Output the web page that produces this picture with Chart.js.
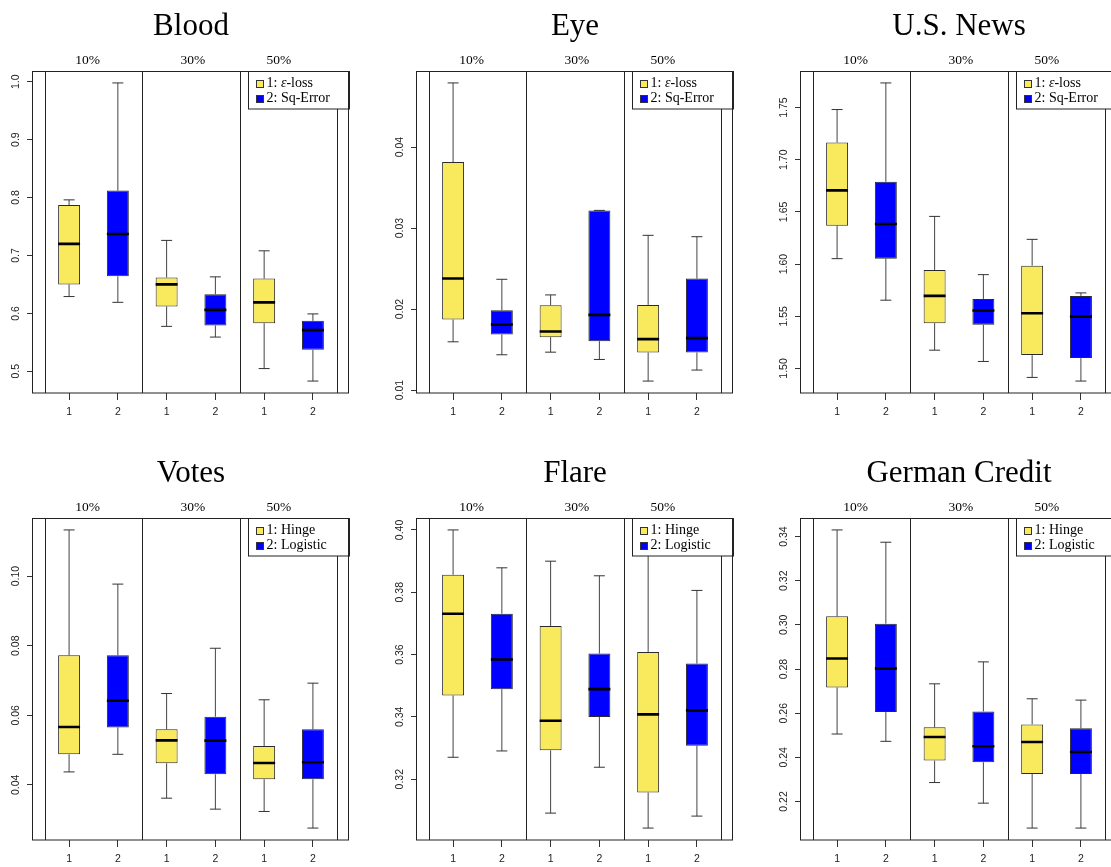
<!DOCTYPE html>
<html>
<head>
<meta charset="utf-8">
<script src="https://cdn.jsdelivr.net/npm/chart.js@4.4.0/dist/chart.umd.min.js"></script>
<style>
html, body { margin: 0; padding: 0; background: #fff; overflow: hidden; width: 1111px; height: 867px; }
#wrap { position: relative; width: 1111px; height: 867px; overflow: hidden; }
.panel { position: absolute; width: 384px; height: 447px; }
.panel canvas { display: block; }
</style>
</head>
<body>
<div id="wrap">
  <div class="panel" style="left:0px;top:0px"><canvas id="c0" width="384" height="447"></canvas></div>
  <div class="panel" style="left:384px;top:0px"><canvas id="c1" width="384" height="447"></canvas></div>
  <div class="panel" style="left:768px;top:0px"><canvas id="c2" width="384" height="447"></canvas></div>
  <div class="panel" style="left:0px;top:447px"><canvas id="c3" width="384" height="447"></canvas></div>
  <div class="panel" style="left:384px;top:447px"><canvas id="c4" width="384" height="447"></canvas></div>
  <div class="panel" style="left:768px;top:447px"><canvas id="c5" width="384" height="447"></canvas></div>
</div>
<script>
// ---------- data ----------
const boxPositions = [1, 2, 3, 4, 5, 6];
const boxTickLabels = ['1', '2', '1', '2', '1', '2'];
const groupLabels = ['10%', '30%', '50%'];
const groupLabelAt = [1.38, 3.54, 5.3];
const groupSeparators = [0.5, 2.5, 4.5, 6.5];
const boxColors = ['#F9EA5D', '#0000FF', '#F9EA5D', '#0000FF', '#F9EA5D', '#0000FF'];
const legendColors = ['#F9EA5D', '#0000FF'];
const regressionLegend = ['1: ε-loss', '2: Sq-Error'];
const classificationLegend = ['1: Hinge', '2: Logistic'];

// each box: [min, q1, median, q3, max]
const bloodBoxes = [
  [0.629, 0.650, 0.720, 0.787, 0.796],
  [0.619, 0.664, 0.737, 0.812, 0.998],
  [0.5775, 0.612, 0.650, 0.662, 0.726],
  [0.559, 0.579, 0.606, 0.633, 0.663],
  [0.5046, 0.583, 0.619, 0.660, 0.708],
  [0.483, 0.537, 0.571, 0.587, 0.599]
];
const bloodTicks = [0.5, 0.6, 0.7, 0.8, 0.9, 1.0];
const bloodTickLabels = ['0.5', '0.6', '0.7', '0.8', '0.9', '1.0'];

const eyeBoxes = [
  [0.01596, 0.01871, 0.02377, 0.03815, 0.04793],
  [0.01436, 0.01686, 0.01810, 0.01986, 0.02368],
  [0.01468, 0.01653, 0.01723, 0.02048, 0.02175],
  [0.01378, 0.01604, 0.01929, 0.03219, 0.03219],
  [0.01111, 0.01464, 0.01629, 0.02052, 0.02911],
  [0.01247, 0.01464, 0.01641, 0.02377, 0.02894]
];
const eyeTicks = [0.01, 0.02, 0.03, 0.04];
const eyeTickLabels = ['0.01', '0.02', '0.03', '0.04'];

const newsBoxes = [
  [1.6052, 1.6368, 1.6706, 1.7165, 1.7481],
  [1.5654, 1.6052, 1.6384, 1.6789, 1.7736],
  [1.5175, 1.5434, 1.5695, 1.5944, 1.6457],
  [1.5067, 1.5418, 1.5555, 1.5666, 1.5899],
  [1.4914, 1.5128, 1.5529, 1.5985, 1.6237],
  [1.4879, 1.5099, 1.5497, 1.5695, 1.5724]
];
const newsTicks = [1.50, 1.55, 1.60, 1.65, 1.70, 1.75];
const newsTickLabels = ['1.50', '1.55', '1.60', '1.65', '1.70', '1.75'];

const votesBoxes = [
  [0.04373, 0.04879, 0.05663, 0.07726, 0.11328],
  [0.04879, 0.05653, 0.06417, 0.07726, 0.09771],
  [0.03618, 0.04621, 0.05280, 0.05596, 0.06627],
  [0.03303, 0.04306, 0.05271, 0.05959, 0.07927],
  [0.03236, 0.04163, 0.04631, 0.05118, 0.06446],
  [0.02759, 0.04163, 0.04650, 0.05596, 0.06924]
];
const votesTicks = [0.04, 0.06, 0.08, 0.10];
const votesTickLabels = ['0.04', '0.06', '0.08', '0.10'];

const flareBoxes = [
  [0.32704, 0.34688, 0.37312, 0.38560, 0.40000],
  [0.32907, 0.34890, 0.35840, 0.37312, 0.38784],
  [0.30912, 0.32928, 0.33877, 0.36917, 0.38997],
  [0.32384, 0.33995, 0.34890, 0.36032, 0.38528],
  [0.30432, 0.31573, 0.34080, 0.36085, 0.39600],
  [0.30816, 0.33077, 0.34208, 0.35712, 0.38059]
];
const flareTicks = [0.32, 0.34, 0.36, 0.38, 0.40];
const flareTickLabels = ['0.32', '0.34', '0.36', '0.38', '0.40'];

const germanBoxes = [
  [0.25056, 0.27164, 0.28474, 0.30386, 0.34301],
  [0.24725, 0.26050, 0.28023, 0.30055, 0.33744],
  [0.22858, 0.23852, 0.24921, 0.25358, 0.27330],
  [0.21925, 0.23777, 0.24500, 0.26080, 0.28324],
  [0.20796, 0.23250, 0.24695, 0.25493, 0.26652],
  [0.20796, 0.23250, 0.24244, 0.25312, 0.26592]
];
const germanTicks = [0.22, 0.24, 0.26, 0.28, 0.30, 0.32, 0.34];
const germanTickLabels = ['0.22', '0.24', '0.26', '0.28', '0.30', '0.32', '0.34'];

const panels = [
  { id: 'c0', title: 'Blood', boxes: bloodBoxes, ticks: bloodTicks, labels: bloodTickLabels, legend: regressionLegend },
  { id: 'c1', title: 'Eye', boxes: eyeBoxes, ticks: eyeTicks, labels: eyeTickLabels, legend: regressionLegend },
  { id: 'c2', title: 'U.S. News', boxes: newsBoxes, ticks: newsTicks, labels: newsTickLabels, legend: regressionLegend },
  { id: 'c3', title: 'Votes', boxes: votesBoxes, ticks: votesTicks, labels: votesTickLabels, legend: classificationLegend },
  { id: 'c4', title: 'Flare', boxes: flareBoxes, ticks: flareTicks, labels: flareTickLabels, legend: classificationLegend },
  { id: 'c5', title: 'German Credit', boxes: germanBoxes, ticks: germanTicks, labels: germanTickLabels, legend: classificationLegend }
];

// ---------- style ----------
const BOX_HALF = 0.225;
const CAP_HALF = 0.1125;
const SERIF = '"Liberation Serif", "Times New Roman", serif';
const SANS = '"Liberation Sans", Arial, sans-serif';
const TICK_FONT_SIZE = 10.5;
const INK = '#222';

const measureCtx = document.createElement('canvas').getContext('2d');
function textWidth(t, font) { measureCtx.font = font; return measureCtx.measureText(t).width; }

const decorPlugin = {
  id: 'decor',
  beforeDatasetsDraw(chart, args, opts) {
    const { ctx, chartArea: a, scales: { x } } = chart;
    ctx.save();
    ctx.strokeStyle = INK;
    ctx.lineWidth = 1;
    groupSeparators.forEach(s => {
      const px = Math.round(x.getPixelForValue(s)) + 0.5;
      ctx.beginPath(); ctx.moveTo(px, a.top); ctx.lineTo(px, a.bottom); ctx.stroke();
    });
    ctx.restore();
  },
  afterDatasetsDraw(chart, args, opts) {
    const { ctx, chartArea: a } = chart;
    ctx.save();
    // legend
    const w = 101, h = 37.5;
    const lx = Math.round(a.right - w) + 0.5, ly = Math.round(a.top) + 0.5;
    ctx.fillStyle = '#fff';
    ctx.fillRect(lx, ly, w, h);
    ctx.strokeStyle = INK; ctx.lineWidth = 1;
    ctx.strokeRect(lx, ly, w, h);
    opts.legend.forEach((lab, i) => {
      const cy = a.top + 12 + i * 15;
      ctx.fillStyle = legendColors[i];
      ctx.fillRect(lx + 8, Math.round(cy - 3.5), 7, 7);
      ctx.strokeStyle = '#333';
      ctx.strokeRect(lx + 8, Math.round(cy - 3.5) + 0.5, 7, 7);
      ctx.fillStyle = '#000';
      ctx.textBaseline = 'middle';
      ctx.textAlign = 'left';
      let tx = lx + 18;
      const parts = lab.split('ε');
      parts.forEach((part, k) => {
        ctx.font = '14px ' + SERIF;
        ctx.fillText(part, tx, cy);
        tx += ctx.measureText(part).width;
        if (k < parts.length - 1) {
          ctx.font = 'italic 14px ' + SERIF;
          ctx.fillText('ε', tx, cy);
          tx += ctx.measureText('ε').width;
        }
      });
    });
    // frame
    ctx.strokeStyle = INK; ctx.lineWidth = 1;
    ctx.strokeRect(Math.round(a.left) - 0.5, Math.round(a.top) + 0.5, Math.round(a.right - a.left), Math.round(a.bottom - a.top) - 0.5);
    ctx.restore();
  },
  afterDraw(chart, args, opts) {
    const { ctx, chartArea: a, scales: { x } } = chart;
    ctx.save();
    ctx.fillStyle = '#000';
    ctx.textAlign = 'center';
    ctx.textBaseline = 'alphabetic';
    ctx.font = '31px ' + SERIF;
    ctx.fillText(opts.title, (a.left + a.right) / 2, a.top - 36);
    ctx.font = '13.5px ' + SERIF;
    groupLabels.forEach((g, i) => {
      ctx.fillText(g, x.getPixelForValue(groupLabelAt[i]), a.top - 7.5);
    });
    ctx.restore();
  }
};

function makePanel(p) {
  const lo = Math.min(...p.boxes.map(b => b[0]));
  const hi = Math.max(...p.boxes.map(b => b[4]));
  const pad = (hi - lo) * 0.04;

  const boxData = p.boxes.map((b, i) => ({ x: boxPositions[i], y: [b[1], b[3]] }));
  const whiskers = [], caps = [], medians = [];
  p.boxes.forEach((b, i) => {
    const c = boxPositions[i];
    whiskers.push({ x: c, y: b[0] }, { x: c, y: b[1] }, { x: c, y: null },
                  { x: c, y: b[3] }, { x: c, y: b[4] }, { x: c, y: null });
    caps.push({ x: c - CAP_HALF, y: b[0] }, { x: c + CAP_HALF, y: b[0] }, { x: c, y: null },
              { x: c - CAP_HALF, y: b[4] }, { x: c + CAP_HALF, y: b[4] }, { x: c, y: null });
    medians.push({ x: c - BOX_HALF, y: b[2] }, { x: c + BOX_HALF, y: b[2] }, { x: c, y: null });
  });

  const tickFont = { family: SANS, size: TICK_FONT_SIZE };
  const fontStr = TICK_FONT_SIZE + 'px ' + SANS;
  const widest = Math.max(...p.labels.map(l => textWidth(l, fontStr)));
  const yPad = Math.max(0, 10.8 - widest / 2);

  const lineBase = { type: 'line', pointRadius: 0, pointHoverRadius: 0, spanGaps: false, fill: false, tension: 0 };

  new Chart(document.getElementById(p.id), {
    type: 'bar',
    data: {
      datasets: [
        { ...lineBase, data: medians, borderColor: '#000', borderWidth: 2.6, order: 0, borderCapStyle: 'butt' },
        { type: 'bar', data: boxData, backgroundColor: boxColors, borderColor: '#2a2a2a', borderWidth: 1,
          borderSkipped: false, barPercentage: 2 * BOX_HALF, categoryPercentage: 1, order: 1 },
        { ...lineBase, data: caps, borderColor: '#333', borderWidth: 1, order: 2 },
        { ...lineBase, data: whiskers, borderColor: '#444', borderWidth: 1, order: 3 }
      ]
    },
    options: {
      responsive: false,
      animation: false,
      events: [],
      devicePixelRatio: 1,
      layout: { padding: { top: 71, right: 35, left: 0, bottom: 0 } },
      plugins: {
        legend: { display: false },
        tooltip: { enabled: false },
        title: { display: false },
        decor: { title: p.title, legend: p.legend }
      },
      scales: {
        x: {
          type: 'linear',
          min: 0.26, max: 6.74,
          offset: false,
          afterBuildTicks: s => { s.ticks = boxPositions.map(v => ({ value: v })); },
          afterFit: s => { s.height = 54; },
          ticks: {
            autoSkip: false, maxRotation: 0, minRotation: 0, padding: 6,
            font: tickFont, color: INK,
            callback: (v, i) => boxTickLabels[i]
          },
          grid: { display: true, offset: false, drawOnChartArea: false, drawTicks: true, tickLength: 7, color: '#333', lineWidth: 1 },
          border: { display: false }
        },
        y: {
          type: 'linear',
          min: lo - pad, max: hi + pad,
          afterBuildTicks: s => { s.ticks = p.ticks.map(v => ({ value: v })); },
          afterFit: s => { s.width = 33; },
          ticks: {
            autoSkip: false, minRotation: 90, maxRotation: 90, crossAlign: 'center', padding: yPad,
            font: tickFont, color: INK,
            callback: (v, i) => p.labels[i]
          },
          grid: { display: true, offset: false, drawOnChartArea: false, drawTicks: true, tickLength: 6, color: '#333', lineWidth: 1 },
          border: { display: false }
        }
      }
    },
    plugins: [decorPlugin]
  });
}

panels.forEach(makePanel);
</script>
</body>
</html>
